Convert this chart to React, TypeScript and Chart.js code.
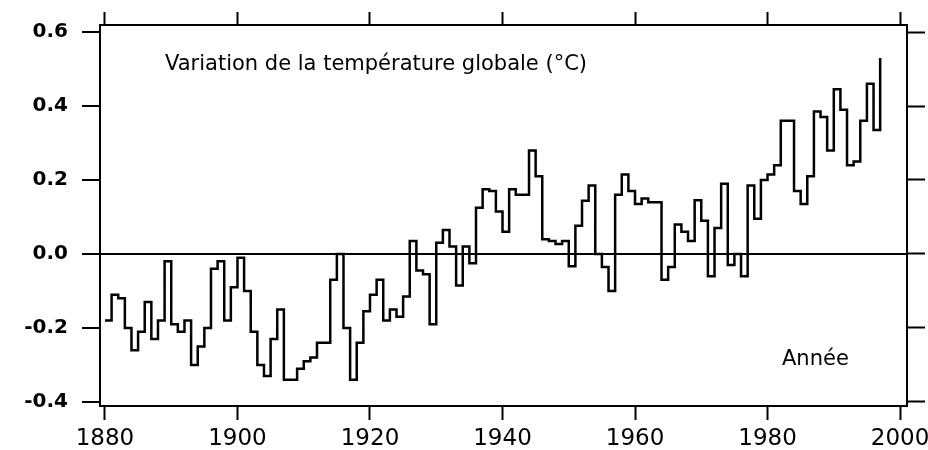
import React, { useEffect, useRef } from "react";
import { Chart, registerables } from "chart.js";

Chart.register(...registerables);

// Global temperature anomaly (°C), one value per year
const FIRST_YEAR = 1880;
const anomalies1880s = [-0.18, -0.11, -0.12, -0.2, -0.26, -0.21, -0.13, -0.23, -0.18, -0.02];
const anomalies1890s = [-0.19, -0.21, -0.18, -0.3, -0.25, -0.2, -0.04, -0.02, -0.18, -0.09];
const anomalies1900s = [-0.01, -0.1, -0.21, -0.3, -0.33, -0.23, -0.15, -0.34, -0.34, -0.31];
const anomalies1910s = [-0.29, -0.28, -0.24, -0.24, -0.07, 0.0, -0.2, -0.34, -0.24, -0.155];
const anomalies1920s = [-0.11, -0.07, -0.18, -0.15, -0.17, -0.115, 0.035, -0.045, -0.055, -0.19];
const anomalies1930s = [0.03, 0.065, 0.02, -0.085, 0.02, -0.025, 0.125, 0.175, 0.17, 0.115];
const anomalies1940s = [0.06, 0.175, 0.16, 0.16, 0.28, 0.21, 0.04, 0.035, 0.027, 0.035];
const anomalies1950s = [-0.033, 0.076, 0.144, 0.185, 0.0, -0.035, -0.1, 0.16, 0.215, 0.17];
const anomalies1960s = [0.135, 0.15, 0.14, 0.14, -0.07, -0.035, 0.08, 0.06, 0.035, 0.145];
const anomalies1970s = [0.09, -0.06, 0.07, 0.19, -0.03, 0.0, -0.06, 0.185, 0.095, 0.2];
const anomalies1980s = [0.215, 0.24, 0.36, 0.36, 0.17, 0.135, 0.21, 0.385, 0.37, 0.28];
const anomalies1990s = [0.445, 0.39, 0.24, 0.25, 0.36, 0.46, 0.335, 0.53];

const anomalies = [
  ...anomalies1880s, ...anomalies1890s, ...anomalies1900s, ...anomalies1910s,
  ...anomalies1920s, ...anomalies1930s, ...anomalies1940s, ...anomalies1950s,
  ...anomalies1960s, ...anomalies1970s, ...anomalies1980s, ...anomalies1990s,
];
const years = anomalies.map((_, i) => FIRST_YEAR + i);

const xTickValues = [1880, 1900, 1920, 1940, 1960, 1980, 2000];
const yTickValues = [-0.4, -0.2, 0.0, 0.2, 0.4, 0.6];
const yTickLabels = ["-0.4", "-0.2", "0.0", "0.2", "0.4", "0.6"];
const X_MIN = 1879.25;
const X_MAX = 2001.05;
const Y_MIN = -0.411;
const Y_MAX = 0.619;

const chartTitle = "Variation de la température globale (°C)";
const xAxisLabel = "Année";

const FONT = '"DejaVu Sans", sans-serif';

const textPlugin = {
  id: "innerTexts",
  afterDraw(chart: any) {
    const { ctx, chartArea } = chart;
    ctx.save();
    ctx.fillStyle = "#000";
    ctx.textBaseline = "middle";
    ctx.textAlign = "left";
    ctx.font = `21px ${FONT}`;
    ctx.fillText(chartTitle, chartArea.left + 65, chartArea.top + 40);
    ctx.fillText(xAxisLabel, chartArea.left + 682, chartArea.top + 335);
    ctx.restore();
  },
};

const setXTicks = (scale: any) => {
  scale.ticks = xTickValues.map((v) => ({ value: v }));
};
const setYTicks = (scale: any) => {
  scale.ticks = yTickValues.map((v) => ({ value: v }));
};
const fixSize = (w: number | null, h: number | null) => (s: any) => {
  if (w !== null) s.width = w;
  if (h !== null) s.height = h;
  s.paddingLeft = 0;
  s.paddingRight = 0;
  s.paddingTop = 0;
  s.paddingBottom = 0;
};

const border = { display: true, color: "#000", width: 2 };

export default function App() {
  const canvasRef = useRef<HTMLCanvasElement | null>(null);

  useEffect(() => {
    document.body.style.margin = "0";
    const canvas = canvasRef.current;
    if (!canvas) return;
    const chart = new Chart(canvas, {
      type: "line",
      data: {
        datasets: [
          {
            data: years.map((yr, i) => ({ x: yr, y: anomalies[i] })),
            borderColor: "#000",
            borderWidth: 2.5,
            pointRadius: 0,
            stepped: true,
            tension: 0,
            borderJoinStyle: "miter",
            borderCapStyle: "butt",
            fill: false,
          },
        ],
      },
      options: {
        animation: false,
        responsive: false,
        devicePixelRatio: 1,
        layout: { padding: 0, autoPadding: false },
        plugins: {
          legend: { display: false },
          tooltip: { enabled: false },
          title: { display: false },
        },
        scales: {
          x: {
            type: "linear",
            position: "bottom",
            min: X_MIN,
            max: X_MAX,
            afterBuildTicks: setXTicks,
            afterFit: fixSize(null, 44),
            ticks: {
              color: "#000",
              font: { family: FONT, size: 23 },
              padding: 5,
              maxRotation: 0,
              autoSkip: false,
              callback: (v: any) => String(v),
            },
            grid: {
              drawOnChartArea: false,
              drawTicks: true,
              tickLength: 14,
              tickWidth: 2,
              tickColor: "#000",
            },
            border,
          },
          x2: {
            type: "linear",
            position: "top",
            min: X_MIN,
            max: X_MAX,
            afterBuildTicks: setXTicks,
            afterFit: fixSize(null, 25),
            ticks: { display: false },
            grid: {
              drawOnChartArea: false,
              drawTicks: true,
              tickLength: 13,
              tickWidth: 2,
              tickColor: "#000",
            },
            border,
          },
          y: {
            type: "linear",
            position: "left",
            min: Y_MIN,
            max: Y_MAX,
            afterBuildTicks: setYTicks,
            afterFit: fixSize(100, null),
            ticks: {
              color: "#000",
              font: { family: FONT, size: 20, weight: "bold" },
              padding: 14,
              autoSkip: false,
              callback: (v: any) => {
                const idx = yTickValues.indexOf(v);
                return idx >= 0 ? yTickLabels[idx] : "";
              },
            },
            grid: {
              drawOnChartArea: true,
              drawTicks: true,
              color: (ctx: any) =>
                ctx.tick && ctx.tick.value === 0 ? "#000" : "rgba(0,0,0,0)",
              lineWidth: 2,
              tickLength: 18,
              tickWidth: 2,
              tickColor: "#000",
            },
            border,
          },
          y2: {
            type: "linear",
            position: "right",
            min: Y_MIN,
            max: Y_MAX,
            afterBuildTicks: setYTicks,
            afterFit: fixSize(21, null),
            ticks: { display: false },
            grid: {
              drawOnChartArea: false,
              drawTicks: true,
              tickLength: 18,
              tickWidth: 2,
              tickColor: "#000",
            },
            border,
          },
        },
      },
      plugins: [textPlugin],
    } as any);
    return () => {
      chart.destroy();
    };
  }, []);

  return (
    <div style={{ width: 928, height: 450, background: "#fff" }}>
      <canvas ref={canvasRef} width={928} height={450} style={{ display: "block" }} />
    </div>
  );
}
